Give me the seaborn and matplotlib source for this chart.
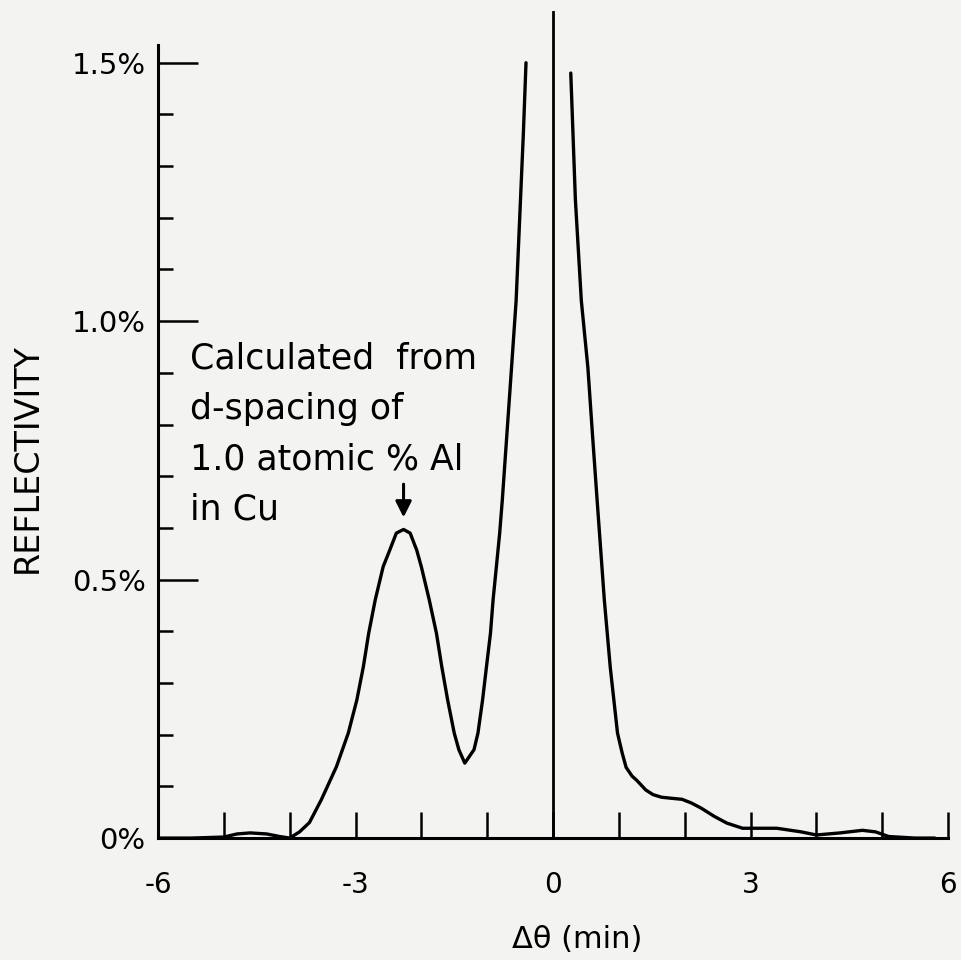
import numpy as np
import pandas as pd
import matplotlib
matplotlib.use("Agg")
import matplotlib.pyplot as plt
from matplotlib.ticker import FixedLocator
import seaborn as sns

sns.set_style("white")
plt.rcParams["font.family"] = ["DejaVu Sans"]
plt.rcParams["text.color"] = "black"
plt.rcParams["axes.labelcolor"] = "black"

# reflectivity curve (theta in min, reflectivity in %)
# left branch: from -6 up to the cut-off of the main peak
left_theta = [-6.0, -5.5, -5.0, -4.8, -4.6, -4.35, -4.15, -4.0, -3.85, -3.7,
              -3.52, -3.29, -3.11, -2.98, -2.88, -2.80, -2.70, -2.58, -2.48, -2.38,
              -2.27, -2.17, -2.07, -2.0, -1.88, -1.77, -1.69, -1.60, -1.50, -1.43,
              -1.34, -1.20, -1.14, -1.07, -1.01, -0.95, -0.91, -0.86, -0.81, -0.77,
              -0.63, -0.56, -0.45, -0.41]
left_refl = [0.0, 0.0, 0.002, 0.008, 0.01, 0.008, 0.003, 0.0, 0.012, 0.03,
             0.074, 0.138, 0.203, 0.267, 0.332, 0.396, 0.461, 0.525, 0.557, 0.590,
             0.597, 0.590, 0.557, 0.525, 0.461, 0.396, 0.332, 0.267, 0.203, 0.171,
             0.145, 0.171, 0.203, 0.267, 0.332, 0.396, 0.461, 0.525, 0.590, 0.654,
             0.91, 1.04, 1.364, 1.50]
# right branch: from the cut-off down to +6
right_theta = [0.27, 0.34, 0.43, 0.53, 0.60, 0.67, 0.78, 0.87, 0.98, 1.05, 1.11,
               1.20, 1.27, 1.41, 1.52, 1.65, 1.80, 1.96, 2.10, 2.25, 2.45,
               2.64, 2.88, 3.1, 3.4, 3.77, 4.0, 4.36, 4.7, 4.9, 5.1, 5.5, 5.8]
right_refl = [1.48, 1.235, 1.04, 0.91, 0.78, 0.654, 0.46, 0.33, 0.203, 0.165, 0.137,
              0.12, 0.112, 0.093, 0.084, 0.079, 0.077, 0.075, 0.068, 0.058, 0.042,
              0.029, 0.019, 0.019, 0.019, 0.012, 0.006, 0.01, 0.015, 0.012, 0.003,
              0.0, 0.0]

x_ticks = list(range(-6, 7))
x_ticklabels = {-6: "-6", -3: "-3", 0: "0", 3: "3", 6: "6"}
y_ticklabels = {0.0: "0%", 0.5: "0.5%", 1.0: "1.0%", 1.5: "1.5%"}

peak_theta = -2.27
note = "Calculated  from\nd-spacing of\n1.0 atomic % Al\nin Cu"

bg = "#f3f3f1"
fig = plt.figure(figsize=(9.62, 9.6), dpi=100, facecolor=bg)
ax = fig.add_axes([158 / 962, 0.127, (948 - 158) / 962, 0.8615])
ax.set_facecolor(bg)

left_df = pd.DataFrame({"theta": left_theta, "refl": left_refl})
right_df = pd.DataFrame({"theta": right_theta, "refl": right_refl})
sns.lineplot(data=left_df, x="theta", y="refl", sort=False, color="black", lw=2.4, ax=ax)
sns.lineplot(data=right_df, x="theta", y="refl", sort=False, color="black", lw=2.4, ax=ax)

# vertical line at the Bragg angle
ax.axvline(0, color="black", lw=2.0)

ax.set_xlim(-6, 6)
ax.set_ylim(0, 1.6)

for s in ["top", "right"]:
    ax.spines[s].set_visible(False)
ax.spines["left"].set_linewidth(2.2)
ax.spines["bottom"].set_linewidth(2.2)
ax.spines["left"].set_color("black")
ax.spines["bottom"].set_color("black")
ax.spines["left"].set_bounds(0, 1.535)

ax.set_xticks(x_ticks)
ax.set_xticklabels([x_ticklabels.get(t, "") for t in x_ticks])
ax.set_yticks(list(y_ticklabels.keys()))
ax.set_yticklabels(list(y_ticklabels.values()))
ax.yaxis.set_minor_locator(FixedLocator([v / 10 for v in range(1, 15) if v % 5]))

ax.tick_params(axis="x", bottom=True, direction="in", length=19, width=1.8, pad=24,
               labelsize=20, colors="black")
ax.tick_params(axis="y", which="major", left=True, direction="in", length=29, width=1.8,
               pad=9, labelsize=21, colors="black")
ax.tick_params(axis="y", which="minor", left=True, direction="in", length=11, width=1.8,
               colors="black")

ax.set_xlabel("Δθ (min)", fontsize=22)
ax.xaxis.set_label_coords(0.53, -0.105)
ax.set_ylabel("REFLECTIVITY", fontsize=24)
ax.yaxis.set_label_coords(-0.145, 0.46)

ax.text(-5.52, 0.96, note, fontsize=25, va="top", ha="left", linespacing=1.6)
ax.annotate("", xy=(peak_theta, 0.615), xytext=(peak_theta, 0.69),
            arrowprops=dict(arrowstyle="-|>", color="black", lw=2.2, mutation_scale=24))

fig.savefig("out.png", dpi=100, facecolor=bg)
